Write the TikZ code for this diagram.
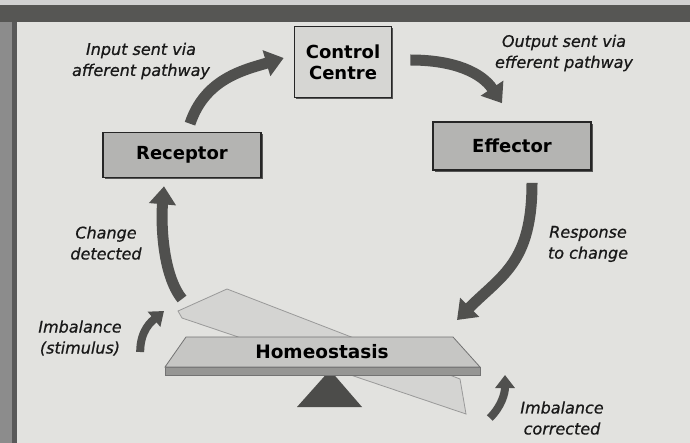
\documentclass[tikz,border=0pt]{standalone}
\usepackage{fontspec}
\usepackage{tikz}
\usetikzlibrary{arrows.meta,shadows,calc,positioning}
\newfontfamily\boxfont{DejaVu Sans}
\newfontfamily\cuefont{DejaVu Sans}[FakeBold=0.7]
\definecolor{paper}{RGB}{226,226,223}
\definecolor{frameDark}{RGB}{86,86,84}
\definecolor{boxGray}{RGB}{180,180,178}
\definecolor{ctrlGray}{RGB}{214,214,211}
\definecolor{arrowGray}{RGB}{80,80,78}
\definecolor{plankTop}{RGB}{198,198,196}
\definecolor{plankEdge}{RGB}{150,150,148}
\definecolor{plankBack}{RGB}{212,212,210}
\definecolor{fulcrum}{RGB}{76,76,74}

\begin{document}
\begin{tikzpicture}[x=1pt,y=-1pt,
    stagebox/.style={draw=black!85, line width=1.6pt, fill=boxGray, align=center, inner sep=0pt,
      font=\boxfont\bfseries\fontsize{18}{21}\selectfont,
      drop shadow={shadow xshift=1.5pt, shadow yshift=-2pt, fill=black!80, opacity=.8}},
    cue/.style={font=\cuefont\itshape\fontsize{16}{21}\selectfont, align=center, text=black!90},
    loopArrow/.style={draw=arrowGray, line width=11pt, -{Triangle[width=26pt,length=18pt]}},
    smallArrow/.style={loopArrow, line width=8pt, -{Triangle[width=19pt,length=13pt]}}]

  \useasboundingbox (0,0) rectangle (690,443);

  % paper and frame of the photo
  \fill[paper] (0,0) rectangle (690,443);
  \fill[black!18] (0,0) rectangle (690,6);
  \fill[frameDark] (0,5) rectangle (690,22);
  \fill[black!45] (0,22) rectangle (16,443);
  \fill[black!65] (12,22) rectangle (17,443);

  % the three stages
  \node[stagebox, fill=ctrlGray, minimum width=97pt, minimum height=71pt] (ctrl) at (343,62) {Control\\Centre};
  \node[stagebox, minimum width=158pt, minimum height=45pt] (rec) at (182,155) {Receptor};
  \node[stagebox, minimum width=158pt, minimum height=48pt] (eff) at (512,146) {Effector};

  % the see-saw
  \coordinate (backTop) at (227,289);
  \coordinate (backLeft) at (178,311);
  \coordinate (plankBR) at (480,375);
  \coordinate (plankTR) at (453,337);
  \draw[fill=plankBack, draw=black!40, line width=.8pt]
    (182,318) -- (backLeft) -- (backTop) -- (460,379) -- (466,414) -- cycle;
  \fill[fulcrum] (297,407) -- (330,370) -- (362,407) -- cycle;
  \draw[fill=plankEdge, draw=black!55, line width=.8pt] (165,367) -- (480,367) -- (plankBR) -- (165,375) -- cycle;
  \draw[fill=plankTop, draw=black!55, line width=.8pt] (165,367) -- (186,337) -- (plankTR) -- (480,367) -- cycle;
  \node[font=\boxfont\bfseries\fontsize{18.5}{21}\selectfont] (homeo) at (322,352) {Homeostasis};

  % the captions
  \foreach \nm/\pos/\txt in {inp/{141,61}/{Input sent via\\afferent pathway},
                             outp/{564,53}/{Output sent via\\efferent pathway},
                             chg/{106,243}/{Change\\detected},
                             resp/{588,244}/{Response\\to change},
                             imbs/{80,338}/{Imbalance\\(stimulus)},
                             imbc/{562,418}/{Imbalance\\corrected}}
    \node[cue] (\nm) at (\pos) {\txt};

  % the loop arrows
  \draw[loopArrow] ([shift={(8pt,8pt)}]rec.north) .. controls +(15,-45) and +(-40,12) .. ([shift={(-10pt,4pt)}]ctrl.west);
  \draw[loopArrow] ([shift={(18pt,2pt)}]ctrl.east) .. controls +(45,0) and +(-20,-30) .. ([shift={(-10pt,18pt)}]eff.north);
  \draw[loopArrow] ([shift={(20pt,-12pt)}]eff.south) .. controls +(0,80) and +(45,-45) .. ([shift={(4pt,17pt)}]plankTR);
  \draw[loopArrow] ([shift={(-45pt,-10pt)}]backTop) .. controls +(-20,-25) and +(-3,35) .. ([shift={(-18pt,-8pt)}]rec.south);

  % the two small arrows of the imbalance
  \draw[smallArrow] ([shift={(15pt,-14pt)}]imbs.east) .. controls +(0,-22) and +(-12,10) .. ([shift={(-14pt,0pt)}]backLeft);
  \draw[smallArrow] ([shift={(-27pt,0pt)}]imbc.west) .. controls +(12,-12) and +(0,18) .. ([shift={(25pt,0pt)}]plankBR);

\end{tikzpicture}
\end{document}
